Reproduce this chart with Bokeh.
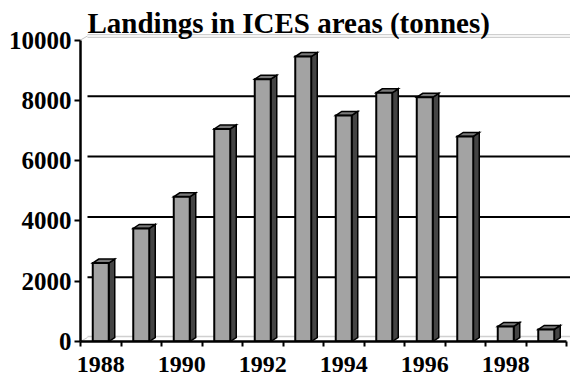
from bokeh.plotting import figure
from bokeh.models import Range1d, FixedTicker, NumeralTickFormatter, Label
from bokeh.embed import file_html
from bokeh.resources import INLINE

# Landings in ICES areas, tonnes per year
years = [1988, 1989, 1990, 1991, 1992, 1993, 1994, 1995, 1996, 1997, 1998, 1999]
landings = [2600, 3750, 4800, 7050, 8700, 9450, 7500, 8250, 8100, 6800, 500, 400]
y_ticks = [0, 2000, 4000, 6000, 8000, 10000]
grid_values = [2000, 4000, 6000, 8000]
x_label_years = [1988, 1990, 1992, 1994, 1996, 1998]

FONT = "Liberation Serif"

# frame geometry (pixels) used to express the pseudo-3D depth offsets
FRAME_W, FRAME_H = 490, 341
PX_PER_CAT = 40.5
PX_PER_UNIT = 301.5 / 10000.0
x_end = FRAME_W / PX_PER_CAT
y_end = FRAME_H / PX_PER_UNIT

def px_x(n):
    return n / PX_PER_CAT

def px_y(n):
    return n / PX_PER_UNIT

p = figure(width=570, height=378, output_backend="svg", toolbar_location=None,
           x_range=Range1d(0, x_end), y_range=Range1d(0, y_end),
           min_border_left=80, min_border_right=0, min_border_top=0,
           min_border_bottom=37)
p.outline_line_color = None
p.xgrid.visible = False
p.ygrid.visible = False
p.background_fill_color = "white"
p.border_fill_color = "white"

# back wall and floor edges
wall_dx, wall_dy = px_x(7), px_y(4)
p.segment(x0=[wall_dx, wall_dx], y0=[10000 + wall_dy + px_y(1.3), 10000 + wall_dy - px_y(1.3)],
          x1=[x_end, x_end], y1=[10000 + wall_dy + px_y(1.3), 10000 + wall_dy - px_y(1.3)],
          line_color="#c4c4c4", line_width=1)
p.segment(x0=[0, 0], y0=[10000, 0], x1=[wall_dx, wall_dx], y1=[10000 + wall_dy, wall_dy],
          line_color="#c4c4c4", line_width=1)
p.segment(x0=[wall_dx], y0=[wall_dy + px_y(1)], x1=[x_end], y1=[wall_dy + px_y(1)],
          line_color="#d0d0d0", line_width=1.5)

# gridlines on the back wall
p.segment(x0=[wall_dx] * len(grid_values), y0=[g + wall_dy for g in grid_values],
          x1=[x_end] * len(grid_values), y1=[g + wall_dy for g in grid_values],
          line_color="black", line_width=2)

# pseudo-3D bars: front face, right side, top
half_w = px_x(8)
bar_dx, bar_dy = px_x(6), px_y(4)
front_xs, front_ys, side_xs, side_ys, top_xs, top_ys = [], [], [], [], [], []
for i, v in enumerate(landings):
    c = i + 0.5
    x0, x1 = c - half_w, c + half_w
    front_xs.append([x0, x1, x1, x0])
    front_ys.append([0, 0, v, v])
    side_xs.append([x1, x1 + bar_dx, x1 + bar_dx, x1])
    side_ys.append([0, bar_dy, v + bar_dy, v])
    top_xs.append([x0, x1, x1 + bar_dx, x0 + bar_dx])
    top_ys.append([v, v, v + bar_dy, v + bar_dy])

p.patches(side_xs, side_ys, fill_color="#444444", line_color="black", line_width=1.5,
          line_join="miter")
p.patches(top_xs, top_ys, fill_color="#7a7a7a", line_color="black", line_width=1.5,
          line_join="miter")
p.patches(front_xs, front_ys, fill_color="#a3a3a3", line_color="black", line_width=2,
          line_join="miter")

# x axis: ticks on category boundaries, labels every second year
xa = p.xaxis[0]
xa.bounds = (0, len(years))
xa.ticker = FixedTicker(ticks=[years.index(y) + 0.5 for y in x_label_years],
                        minor_ticks=list(range(len(years) + 1)))
xa.major_label_overrides = {years.index(y) + 0.5: str(y) for y in x_label_years}
xa.major_tick_line_color = None
xa.minor_tick_out = 5
xa.minor_tick_in = 0
xa.minor_tick_line_width = 2
xa.minor_tick_line_color = "black"
xa.axis_line_width = 2.5
xa.axis_line_color = "black"
xa.major_label_text_font = FONT
xa.major_label_text_font_style = "bold"
xa.major_label_text_font_size = "24px"
xa.major_label_text_color = "black"
xa.major_label_standoff = 9

ya = p.yaxis[0]
ya.bounds = (0, 10000)
ya.ticker = FixedTicker(ticks=y_ticks, minor_ticks=[])
ya.formatter = NumeralTickFormatter(format="0")
ya.major_tick_out = 6
ya.major_tick_in = 0
ya.major_tick_line_width = 2
ya.major_tick_line_color = "black"
ya.axis_line_width = 2.5
ya.axis_line_color = "black"
ya.major_label_text_font = FONT
ya.major_label_text_font_style = "bold"
ya.major_label_text_font_size = "25px"
ya.major_label_text_color = "black"
ya.major_label_standoff = 3

title = Label(x=px_x(7), y=(341 - 22) / PX_PER_UNIT, text="Landings in ICES areas (tonnes)",
              text_font=FONT, text_font_style="bold", text_font_size="29px",
              text_color="black", text_baseline="alphabetic", text_align="left")
p.add_layout(title)

open("out.html", "w").write(file_html(p, INLINE))
